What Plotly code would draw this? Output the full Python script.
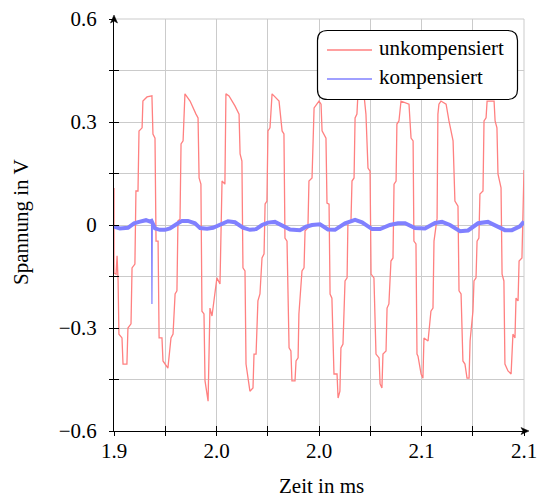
import plotly.graph_objects as go

# ---------------- data ----------------
zeit_unkomp = [
    1.9000, 1.9000, 1.9010, 1.9015, 1.9020, 1.9024, 1.9039, 1.9044, 1.9063, 1.9068,
    1.9083, 1.9088, 1.9102, 1.9107, 1.9117, 1.9122, 1.9137, 1.9141, 1.9161, 1.9185,
    1.9190, 1.9200, 1.9205, 1.9215, 1.9220, 1.9234, 1.9239, 1.9263, 1.9278, 1.9288,
    1.9298, 1.9307, 1.9312, 1.9322, 1.9327, 1.9337, 1.9346, 1.9371, 1.9400, 1.9410,
    1.9415, 1.9424, 1.9429, 1.9439, 1.9444, 1.9459, 1.9468, 1.9478,
    1.9502, 1.9517, 1.9527, 1.9541, 1.9546, 1.9561, 1.9590, 1.9610, 1.9615, 1.9624,
    1.9629, 1.9639, 1.9644, 1.9663, 1.9678, 1.9683, 1.9693, 1.9702, 1.9712, 1.9722,
    1.9732, 1.9737, 1.9746, 1.9751, 1.9761, 1.9771, 1.9805, 1.9820, 1.9829, 1.9834,
    1.9844, 1.9854, 1.9863, 1.9868, 1.9883, 1.9888, 1.9898, 1.9902, 1.9917, 1.9927,
    1.9932, 1.9946, 1.9951, 1.9966, 1.9976,
    2.0000, 2.0010, 2.0015, 2.0034, 2.0039, 2.0049, 2.0054, 2.0063, 2.0073, 2.0088,
    2.0093, 2.0102, 2.0107, 2.0117, 2.0127, 2.0137, 2.0141, 2.0156, 2.0161, 2.0171,
    2.0176, 2.0185, 2.0190, 2.0220, 2.0229, 2.0239, 2.0249, 2.0254, 2.0268, 2.0278,
    2.0293, 2.0298, 2.0307, 2.0312, 2.0327, 2.0332, 2.0341, 2.0351, 2.0361, 2.0366,
    2.0376, 2.0380, 2.0390, 2.0400, 2.0439, 2.0449, 2.0459, 2.0463, 2.0473, 2.0478,
    2.0483, 2.0498, 2.0507, 2.0512, 2.0532, 2.0546, 2.0556, 2.0561, 2.0576, 2.0580,
    2.0585, 2.0595, 2.0620, 2.0634, 2.0654, 2.0663, 2.0678, 2.0683, 2.0693, 2.0702,
    2.0712, 2.0722, 2.0732, 2.0737, 2.0751, 2.0756, 2.0766, 2.0771, 2.0780, 2.0785,
    2.0800, 2.0805, 2.0815, 2.0820, 2.0854, 2.0859, 2.0868, 2.0873, 2.0888, 2.0893,
    2.0902, 2.0907, 2.0922, 2.0937, 2.0946, 2.0956, 2.0961, 2.0971, 2.0976, 2.0990,
    2.0995, 2.1000,
]
spannung_unkomp = [
    0.108, -0.140, -0.143, -0.090, -0.163, -0.318, -0.329, -0.405, -0.405, -0.300,
    -0.288, -0.125, -0.114, 0.099, 0.099, 0.274, 0.283, 0.361, 0.373, 0.376,
    0.265, 0.253, -0.047, -0.047, -0.329, -0.329, -0.396, -0.417, -0.329, -0.318,
    -0.201, -0.192, 0.012, 0.017, 0.236, 0.245, 0.382, 0.361, 0.323, 0.312,
    0.137, 0.119, -0.251, -0.259, -0.454, -0.513, -0.242, -0.265,
    -0.154, -0.172, 0.128, 0.119, 0.382, 0.376, 0.347, 0.323, 0.207, 0.186,
    -0.125, -0.134, -0.405, -0.484, -0.475, -0.376, -0.376, -0.221, -0.201, -0.096,
    -0.084, 0.061, 0.070, 0.274, 0.283, 0.382, 0.361, 0.274, 0.265, -0.038,
    -0.047, -0.358, -0.367, -0.454, -0.454, -0.396, -0.387, -0.259, -0.134, -0.125,
    -0.017, -0.009, 0.128, 0.137, 0.341,
    0.361, 0.352, 0.274, 0.253, 0.064, 0.061, -0.201, -0.213, -0.434, -0.434,
    -0.504, -0.484, -0.358, -0.347, -0.163, -0.154, 0.003, 0.012, 0.128, 0.137,
    0.312, 0.323, 0.382, 0.376, 0.323, 0.166, 0.157, -0.143, -0.154, -0.376,
    -0.387, -0.463, -0.475, -0.376, -0.367, -0.242, -0.230, -0.105, -0.096, 0.119,
    0.128, 0.294, 0.303, 0.361, 0.352, 0.253, 0.245, -0.047, -0.055, -0.376,
    -0.382, -0.434, -0.446, -0.329, -0.338, -0.251, -0.242, -0.047, 0.020, 0.323,
    0.352, 0.361, 0.352, 0.303, 0.245, 0.070, 0.055, -0.192, -0.201, -0.396,
    -0.405, -0.446, -0.446, -0.338, -0.251, -0.163, -0.154, -0.047, -0.038, 0.090,
    0.099, 0.303, 0.312, 0.361, 0.361, 0.303, 0.283, 0.149, 0.108, -0.143,
    -0.163, -0.405, -0.425, -0.434, -0.318, -0.329, -0.213, -0.221, -0.105, -0.096,
    0.079, 0.160,
]

zeit_komp = [
    1.9000, 1.9029, 1.9068, 1.9098, 1.9127, 1.9156, 1.9176, 1.9183, 1.9200, 1.9224,
    1.9249, 1.9273, 1.9312, 1.9332, 1.9361, 1.9395, 1.9420, 1.9454, 1.9483, 1.9517,
    1.9556, 1.9590, 1.9629, 1.9663, 1.9693, 1.9722, 1.9751, 1.9785, 1.9820, 1.9859,
    1.9907, 1.9937, 1.9966, 2.0005, 2.0044, 2.0078, 2.0127, 2.0176, 2.0210, 2.0259,
    2.0298, 2.0346, 2.0385, 2.0420, 2.0468, 2.0517, 2.0566, 2.0600, 2.0639, 2.0688,
    2.0727, 2.0776, 2.0824, 2.0859, 2.0907, 2.0941, 2.0980, 2.1000,
]
spannung_komp = [
    -0.005, -0.010, -0.008, 0.005, 0.010, 0.014, 0.010, 0.012, -0.010, -0.014,
    -0.014, -0.010, 0.005, 0.012, 0.012, 0.005, -0.009, -0.011, -0.008, 0.000,
    0.011, 0.008, -0.008, -0.014, -0.012, 0.000, 0.007, 0.009, 0.000, -0.013,
    -0.015, -0.005, 0.000, 0.002, -0.013, -0.014, 0.005, 0.015, 0.008, -0.012,
    -0.012, 0.000, 0.005, 0.005, -0.009, -0.010, 0.006, 0.009, 0.000, -0.018,
    -0.016, 0.005, 0.009, 0.000, -0.015, -0.015, -0.004, 0.010,
]
zeit_spike = [1.9183, 1.9185, 1.9187]
spannung_spike = [0.012, -0.230, 0.000]

x_ticks = [1.9, 1.925, 1.95, 1.975, 2.0, 2.025, 2.05, 2.075, 2.1]
x_labels = ["1.9", "", "2.0", "", "2.0", "", "2.1", "", "2.1"]
y_ticks = [-0.6, -0.45, -0.3, -0.15, 0.0, 0.15, 0.3, 0.45, 0.6]
y_labels = ["\u22120.6", "", "\u22120.3", "", "0", "", "0.3", "", "0.6"]

series_names = ["unkompensiert", "kompensiert"]
x_title = "Zeit in ms"
y_title = "Spannung in V"

# ---------------- styling / layout ----------------
W, H = 537, 499
L, R, T, B = 114, 524, 19, 431
RED = "#ff8080"
BLUE = "#8080ff"
GRID = "#cbcbcb"
FONT = "'Liberation Serif', 'Times New Roman', Times, serif"
FS = 21


def px(xp):
    return (xp - L) / (R - L)


def py(yp):
    return (B - yp) / (B - T)


fig = go.Figure()
fig.add_trace(go.Scatter(x=zeit_unkomp, y=spannung_unkomp, mode="lines",
                         line=dict(color=RED, width=1.3), name=series_names[0],
                         showlegend=False))
fig.add_trace(go.Scatter(x=zeit_komp, y=spannung_komp, mode="lines",
                         line=dict(color=BLUE, width=4), name=series_names[1],
                         showlegend=False))
fig.add_trace(go.Scatter(x=zeit_spike, y=spannung_spike, mode="lines",
                         line=dict(color=BLUE, width=1.2), showlegend=False,
                         hoverinfo="skip"))
fig.add_trace(go.Scatter(x=[None], y=[None], xaxis="x2", yaxis="y2",
                         showlegend=False, hoverinfo="skip"))

tickfont = dict(family=FONT, size=FS, color="black")
fig.update_layout(
    width=W, height=H,
    margin=dict(l=L, r=W - R, t=T, b=H - B, pad=0, autoexpand=False),
    paper_bgcolor="white", plot_bgcolor="white",
    showlegend=False,
    xaxis=dict(range=[1.9, 2.1], tickvals=x_ticks, ticktext=x_labels,
               ticks="inside", ticklen=5, tickcolor="black", tickwidth=1,
               showline=True, linecolor="black", linewidth=1,
               showgrid=True, gridcolor=GRID, gridwidth=1,
               zeroline=False, tickfont=tickfont, ticklabelstandoff=1,
               ticklabeloverflow="allow", automargin=False),
    yaxis=dict(range=[-0.6, 0.6], tickvals=y_ticks, ticktext=y_labels,
               ticks="inside", ticklen=5, tickcolor="black", tickwidth=1,
               showline=True, linecolor="black", linewidth=1,
               showgrid=True, gridcolor=GRID, gridwidth=1,
               zeroline=False, tickfont=tickfont, ticklabelstandoff=12,
               ticklabeloverflow="allow", automargin=False),
    xaxis2=dict(range=[1.9, 2.1], tickvals=x_ticks, overlaying="x", anchor="y",
                side="bottom", ticks="outside", ticklen=4, tickcolor="black",
                showticklabels=False, showgrid=False, showline=False,
                zeroline=False, automargin=False),
    yaxis2=dict(range=[-0.6, 0.6], tickvals=y_ticks, overlaying="y", anchor="x",
                side="left", ticks="outside", ticklen=4, tickcolor="black",
                showticklabels=False, showgrid=False, showline=False,
                zeroline=False, automargin=False),
)

shapes = []
# edge grid lines (top and right)
shapes.append(dict(type="line", xref="paper", yref="paper", x0=0, x1=1, y0=1, y1=1,
                   line=dict(color=GRID, width=1), layer="below"))
shapes.append(dict(type="line", xref="paper", yref="paper", x0=1, x1=1, y0=0, y1=1,
                   line=dict(color=GRID, width=1), layer="below"))
# axis arrows
shapes.append(dict(type="path", xref="paper", yref="paper",
                   path=f"M {px(114)} {py(15)} L {px(110.5)} {py(23)} L {px(114)} {py(21)} L {px(117.5)} {py(23)} Z",
                   fillcolor="black", line=dict(color="black", width=0.5), layer="above"))
shapes.append(dict(type="line", xref="paper", yref="paper",
                   x0=px(524), x1=px(526), y0=py(431), y1=py(431),
                   line=dict(color="black", width=1), layer="above"))
shapes.append(dict(type="path", xref="paper", yref="paper",
                   path=f"M {px(529)} {py(431)} L {px(521)} {py(427.5)} L {px(523)} {py(431)} L {px(521)} {py(434.5)} Z",
                   fillcolor="black", line=dict(color="black", width=0.5), layer="above"))

# legend box (rounded)
x0, x1, y0, y1, r = 317.5, 517.5, 30.5, 99.5, 10
pts = (f"M {px(x0 + r)} {py(y0)} L {px(x1 - r)} {py(y0)} "
       f"Q {px(x1)} {py(y0)} {px(x1)} {py(y0 + r)} "
       f"L {px(x1)} {py(y1 - r)} Q {px(x1)} {py(y1)} {px(x1 - r)} {py(y1)} "
       f"L {px(x0 + r)} {py(y1)} Q {px(x0)} {py(y1)} {px(x0)} {py(y1 - r)} "
       f"L {px(x0)} {py(y0 + r)} Q {px(x0)} {py(y0)} {px(x0 + r)} {py(y0)} Z")
shapes.append(dict(type="path", xref="paper", yref="paper", path=pts,
                   fillcolor="white", line=dict(color="black", width=1.2),
                   layer="above"))
shapes.append(dict(type="line", xref="paper", yref="paper",
                   x0=px(327), x1=px(372), y0=py(50), y1=py(50),
                   line=dict(color=RED, width=1.3), layer="above"))
shapes.append(dict(type="line", xref="paper", yref="paper",
                   x0=px(327), x1=px(372), y0=py(79), y1=py(79),
                   line=dict(color=BLUE, width=1.3), layer="above"))
fig.update_layout(shapes=shapes)

annots = [
    dict(text=series_names[0], x=px(377), y=py(48), xref="paper", yref="paper",
         xanchor="left", yanchor="middle", showarrow=False,
         font=dict(family=FONT, size=FS, color="black")),
    dict(text=series_names[1], x=px(377), y=py(77), xref="paper", yref="paper",
         xanchor="left", yanchor="middle", showarrow=False,
         font=dict(family=FONT, size=FS, color="black")),
    dict(text=x_title, x=px(321), y=py(486), xref="paper", yref="paper",
         xanchor="center", yanchor="middle", showarrow=False,
         font=dict(family=FONT, size=FS, color="black")),
    dict(text=y_title, x=px(21), y=py(222), xref="paper", yref="paper",
         xanchor="center", yanchor="middle", showarrow=False, textangle=-90,
         font=dict(family=FONT, size=FS, color="black")),
]
fig.update_layout(annotations=annots)

fig.write_html("out.html")
